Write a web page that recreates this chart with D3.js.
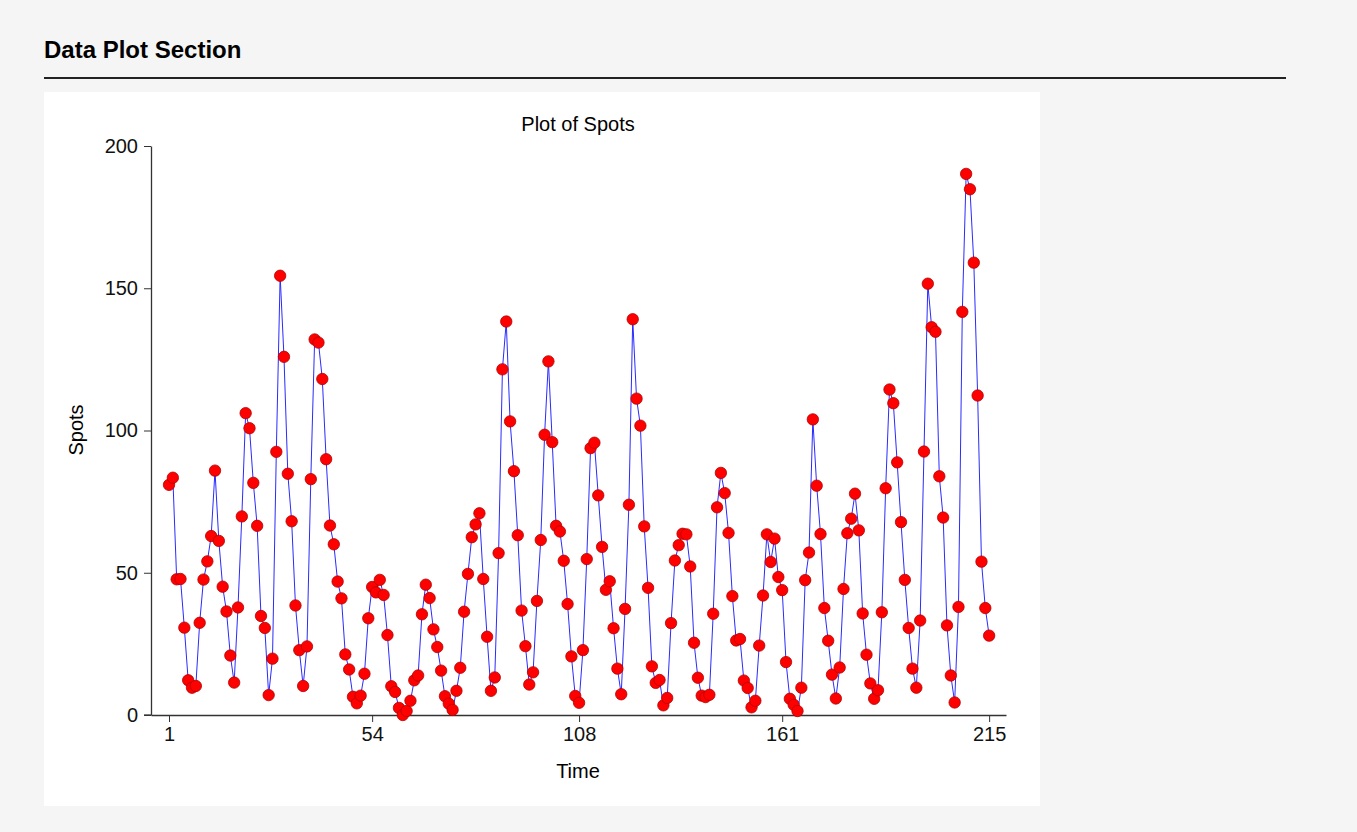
<!DOCTYPE html>
<html>
<head>
<meta charset="utf-8">
<script src="https://cdn.jsdelivr.net/npm/d3@7"></script>
<style>
  body { margin: 0; background: #f5f5f5; font-family: "Liberation Sans", Arial, sans-serif; }
  svg { display: block; }
</style>
</head>
<body>
<svg id="chart" width="1357" height="832"></svg>
<script>
// annual sunspot numbers, time index 1..215
var spots = [
  80.9, 83.4, 47.7, 47.8, 30.7, 12.2, 9.6, 10.2, 32.4, 47.6,
  54.0, 62.9, 85.9, 61.2, 45.1, 36.4, 20.9, 11.4, 37.8, 69.8,
  106.1, 100.8, 81.6, 66.5, 34.8, 30.6, 7.0, 19.8, 92.5, 154.4,
  125.9, 84.8, 68.1, 38.5, 22.8, 10.2, 24.1, 82.9, 132.0, 130.9,
  118.1, 89.9, 66.6, 60.0, 46.9, 41.0, 21.3, 16.0, 6.4, 4.1,
  6.8, 14.5, 34.0, 45.0, 43.1, 47.5, 42.2, 28.1, 10.1, 8.1,
  2.5, 0.0, 1.4, 5.0, 12.2, 13.9, 35.4, 45.8, 41.1, 30.1,
  23.9, 15.6, 6.6, 4.0, 1.8, 8.5, 16.6, 36.3, 49.6, 62.5,
  67.0, 70.9, 47.8, 27.5, 8.5, 13.2, 56.9, 121.5, 138.3, 103.2,
  85.7, 63.2, 36.7, 24.2, 10.7, 15.0, 40.1, 61.5, 98.5, 124.3,
  95.9, 66.5, 64.5, 54.2, 39.0, 20.6, 6.7, 4.3, 22.8, 54.8,
  93.8, 95.7, 77.2, 59.1, 44.0, 47.0, 30.5, 16.3, 7.3, 37.3,
  73.9, 139.1, 111.2, 101.7, 66.3, 44.7, 17.1, 11.3, 12.3, 3.4,
  6.0, 32.3, 54.3, 59.7, 63.7, 63.5, 52.2, 25.4, 13.1, 6.8,
  6.3, 7.1, 35.6, 73.0, 85.1, 78.0, 64.0, 41.8, 26.2, 26.7,
  12.1, 9.5, 2.7, 5.0, 24.4, 42.0, 63.5, 53.8, 62.0, 48.5,
  43.9, 18.6, 5.7, 3.6, 1.4, 9.6, 47.4, 57.1, 103.9, 80.6,
  63.6, 37.6, 26.1, 14.2, 5.8, 16.7, 44.3, 63.9, 69.0, 77.8,
  64.9, 35.7, 21.2, 11.1, 5.7, 8.7, 36.1, 79.7, 114.4, 109.6,
  88.8, 67.8, 47.5, 30.6, 16.3, 9.6, 33.2, 92.6, 151.6, 136.3,
  134.7, 83.9, 69.4, 31.5, 13.9, 4.4, 38.0, 141.7, 190.2, 184.8,
  159.0, 112.3, 53.9, 37.6, 27.9
];
var xTicks = [1, 54, 108, 161, 215];
var yTicks = [0, 50, 100, 150, 200];

var svg = d3.select('#chart');

// section header
svg.append('text')
  .attr('x', 44).attr('y', 58)
  .style('font-size', '24px').style('font-weight', 'bold')
  .text('Data Plot Section');
svg.append('line')
  .attr('x1', 44).attr('x2', 1286).attr('y1', 78).attr('y2', 78)
  .attr('stroke', '#222').attr('stroke-width', 2);

// white panel
svg.append('rect')
  .attr('x', 44).attr('y', 92).attr('width', 996).attr('height', 714)
  .attr('fill', '#fff');

var x = d3.scaleLinear().domain([-3.7, 219.4]).range([151, 1006]);
var y = d3.scaleLinear().domain([0, 200]).range([715, 146]);

var g = svg.append('g');

var xAxis = g.append('g')
  .attr('transform', 'translate(0,715)')
  .call(d3.axisBottom(x).tickValues(xTicks).tickSize(7).tickPadding(5).tickSizeOuter(0));
var yAxis = g.append('g')
  .attr('transform', 'translate(151,0)')
  .call(d3.axisLeft(y).tickValues(yTicks).tickSize(7).tickPadding(6).tickSizeOuter(0));

[xAxis, yAxis].forEach(function(a){
  a.select('.domain').attr('stroke', '#333').attr('stroke-width', 1.3);
  a.selectAll('.tick line').attr('stroke', '#333');
  a.selectAll('.tick text')
    .style('font-family', '"Liberation Sans", Arial, sans-serif')
    .style('font-size', '20px').attr('fill', '#111');
});
// extend the x axis line to the left so it meets the 0 tick
g.append('line')
  .attr('x1', 144).attr('x2', 151).attr('y1', 715).attr('y2', 715)
  .attr('stroke', '#333').attr('stroke-width', 1.3);

// titles
g.append('text')
  .attr('x', 578).attr('y', 131).attr('text-anchor', 'middle')
  .style('font-size', '20px').text('Plot of Spots');
g.append('text')
  .attr('x', 578).attr('y', 778).attr('text-anchor', 'middle')
  .style('font-size', '20px').text('Time');
g.append('text')
  .attr('transform', 'translate(83,430) rotate(-90)')
  .attr('text-anchor', 'middle')
  .style('font-size', '20px').text('Spots');

// series
var line = d3.line()
  .x(function(d, i){ return x(i + 1); })
  .y(function(d){ return y(d); });

g.append('path')
  .datum(spots)
  .attr('d', line)
  .attr('fill', 'none')
  .attr('stroke', '#2a2aff')
  .attr('stroke-width', 1);

g.selectAll('circle.pt')
  .data(spots)
  .enter().append('circle')
  .classed('pt', true)
  .attr('cx', function(d, i){ return x(i + 1); })
  .attr('cy', function(d){ return y(d); })
  .attr('r', 5.7)
  .attr('fill', '#ff0000')
  .attr('stroke', '#b00000')
  .attr('stroke-width', 0.8);
</script>
</body>
</html>
